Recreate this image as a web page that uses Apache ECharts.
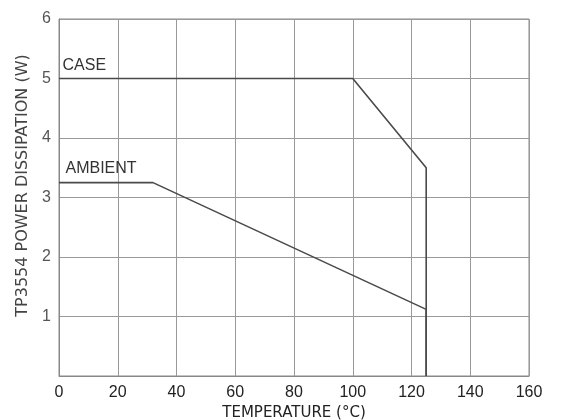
<!DOCTYPE html>
<html><head><meta charset="utf-8">
<script src="https://cdn.jsdelivr.net/npm/echarts@6/dist/echarts.min.js"></script>
<style>html,body{margin:0;padding:0;background:#fff}#c{width:563px;height:420px}</style>
</head><body><div id="c"></div>
<script>
const caseX = [0, 100, 125, 125];
const caseY = [5, 5, 3.5, 0];
const ambientX = [0, 32, 125, 125];
const ambientY = [3.25, 3.25, 1.12, 0];
const xTicks = [0, 20, 40, 60, 80, 100, 120, 140, 160];
const yTicks = [0, 1, 2, 3, 4, 5, 6];
const seriesNames = ['CASE', 'AMBIENT'];

const chart = echarts.init(document.getElementById('c'));
const pair = (xs, ys) => xs.map((x, i) => [x, ys[i]]);
const font = 'Liberation Sans, Arial, sans-serif';
const font2 = 'DejaVu Sans, sans-serif';
const tag = (name, x, y, pos) => ({
  symbol: 'circle', symbolSize: 1, itemStyle: { color: 'rgba(0,0,0,0)' },
  data: [{ coord: [x, y], label: { show: true, formatter: name, position: pos, color: '#333', fontSize: 16, fontFamily: font } }]
});
chart.setOption({
  animation: false,
  backgroundColor: '#fff',
  grid: { left: 59, right: 34, top: 19, bottom: 44, show: true, borderColor: '#888', borderWidth: 1,
          containLabel: false, outerBoundsMode: 'none' },
  xAxis: {
    type: 'value', min: 0, max: 160, interval: 20,
    name: 'TEMPERATURE (°C)', nameLocation: 'middle', nameGap: 24,
    nameTextStyle: { color: '#222', fontSize: 15, fontFamily: font2 },
    axisLine: { show: true, lineStyle: { color: '#888' } },
    axisTick: { show: false },
    axisLabel: { color: '#222', fontSize: 16, fontFamily: font, margin: 9, showMinLabel: true, showMaxLabel: true },
    splitLine: { show: true, lineStyle: { color: '#999', width: 1 } }
  },
  yAxis: {
    type: 'value', min: 0, max: 6, interval: 1,
    name: 'TP3554 POWER DISSIPATION (W)', nameLocation: 'middle', nameGap: 27,
    nameTextStyle: { color: '#444', fontSize: 16, fontFamily: font2, padding: [0, 0, 0, 24] },
    axisLine: { show: true, lineStyle: { color: '#888' } },
    axisTick: { show: false },
    axisLabel: { color: '#555', fontSize: 16, fontFamily: font, margin: 8,
      formatter: v => v === 0 ? '' : String(v) },
    splitLine: { show: true, lineStyle: { color: '#999', width: 1 } }
  },
  series: [
    { name: seriesNames[0], type: 'line', data: pair(caseX, caseY), symbol: 'none',
      lineStyle: { color: '#4a4a4a', width: 1.6 },
      markPoint: tag(seriesNames[0], caseX[0], caseY[0], [4, -20]) },
    { name: seriesNames[1], type: 'line', data: pair(ambientX, ambientY), symbol: 'none',
      lineStyle: { color: '#4a4a4a', width: 1.6 },
      markPoint: tag(seriesNames[1], ambientX[0], ambientY[0], [7, -22]) }
  ]
});
</script></body></html>
